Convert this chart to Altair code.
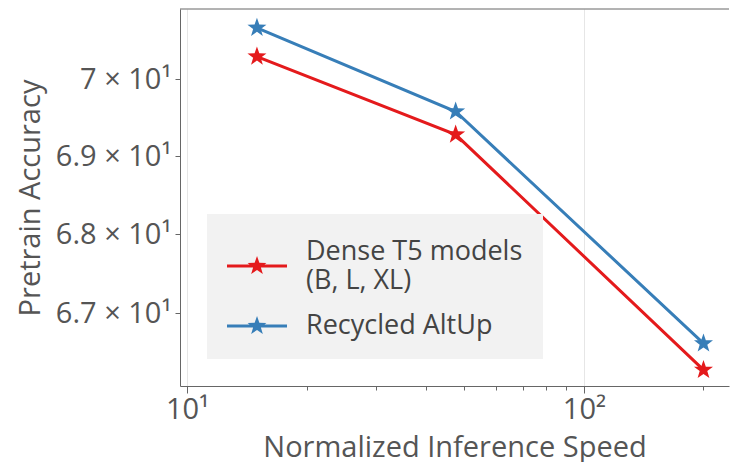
import math
import altair as alt
import pandas as pd

# ---- data ----
series_names = ["Dense T5 models\n(B, L, XL)", "Recycled AltUp"]
speed_dense = [15.0, 47.5, 200.0]
acc_dense = [70.30, 69.28, 66.29]
speed_altup = [15.0, 47.5, 200.0]
acc_altup = [70.68, 69.58, 66.62]

x_ticks = [10, 20, 30, 40, 50, 60, 70, 80, 90, 100, 200]
x_major = {10: "10¹", 100: "10²"}
y_ticks = [67, 68, 69, 70]
y_tick_labels = ["6.7 × 10¹", "6.8 × 10¹", "6.9 × 10¹", "7 × 10¹"]

colors = ["#e41a1c", "#377eb8"]

rows = []
for s, a in zip(speed_dense, acc_dense):
    rows.append({"speed": s, "acc": a, "model": series_names[0]})
for s, a in zip(speed_altup, acc_altup):
    rows.append({"speed": s, "acc": a, "model": series_names[1]})
df = pd.DataFrame(rows)

# ---- star shapes (style only) ----
def star_path(R=1.0, r=0.4, cx=0.0):
    pts = []
    for i in range(10):
        ang = -math.pi / 2 + i * math.pi / 5
        rad = R if i % 2 == 0 else r
        pts.append((cx + rad * math.cos(ang), rad * math.sin(ang)))
    return "M" + " L".join(f"{x:.3f},{y:.3f}" for x, y in pts) + " Z"

STAR = star_path()
# legend glyph: a line with a star in its middle (1 unit = 32px with size 4096)
LEGEND_SYM = "M-1,-0.047 L0.875,-0.047 L0.875,0.047 L-1,0.047 Z " + star_path(0.31, 0.125, -0.0625)

x_label_expr = " : ".join(
    [f"datum.value == {k} ? '{v}'" for k, v in x_major.items()] + ["''"]
)
y_label_expr = " : ".join(
    [f"datum.value == {k} ? '{v}'" for k, v in zip(y_ticks, y_tick_labels)] + ["''"]
)
major_test = " || ".join(f"datum.value == {k}" for k in x_major)

FONT = "Open Sans"
GREY = "#555555"
W, H = 549, 377

x_enc = alt.X(
    "speed:Q",
    scale=alt.Scale(type="log", domain=[9.6, 231.9], nice=False, zero=False),
    axis=alt.Axis(
        title="Normalized Inference Speed",
        values=x_ticks,
        labelExpr=x_label_expr,
        grid=True,
        gridColor="#e6e6e6",
        gridOpacity={"expr": f"({major_test}) ? 1 : 0"},
        tickSize={"expr": f"({major_test}) ? 7 : 4"},
        tickColor="#666666",
        domainColor="#666666",
        labelFontSize=29,
        labelColor=GREY,
        labelFont=FONT,
        labelPadding=2,
        titleFontSize=29,
        titleFont=FONT,
        titleFontWeight="normal",
        titleColor=GREY,
        titlePadding=9,
    ),
)
y_enc = alt.Y(
    "acc:Q",
    scale=alt.Scale(type="log", domain=[66.09, 70.93], nice=False, zero=False),
    axis=alt.Axis(
        title="Pretrain Accuracy",
        values=y_ticks,
        labelExpr=y_label_expr,
        grid=False,
        tickSize=5,
        tickColor="#666666",
        domainColor="#666666",
        labelFontSize=29,
        labelColor=GREY,
        labelFont=FONT,
        labelPadding=4,
        titleFontSize=29,
        titleFont=FONT,
        titleFontWeight="normal",
        titleColor=GREY,
        titlePadding=10,
    ),
)
color_enc = alt.Color(
    "model:N",
    scale=alt.Scale(domain=series_names, range=colors),
    legend=alt.Legend(
        title=None,
        orient="none",
        legendX=27,
        legendY=205,
        fillColor="#f2f2f2",
        padding=20,
        symbolType=LEGEND_SYM,
        symbolSize=4096,
        symbolStrokeWidth=0,
        labelFont=FONT,
        labelFontSize=27,
        labelColor="#444444",
        labelLimit=400,
        labelOffset=15,
        rowPadding=-9,
        labelBaseline={"expr": "length(split(datum.label, '\\n')) > 1 ? 'bottom' : 'middle'"},
        labelExpr="split(datum.label, '\\n')",
    ),
)

points = alt.Chart(df).mark_point(
    shape=STAR, filled=True, size=400, opacity=1
).encode(x=x_enc, y=y_enc, color=color_enc)

lines = alt.Chart(df).mark_line(strokeWidth=3).encode(
    x=x_enc, y=y_enc, color=color_enc, detail="model:N"
)

top_frame = alt.Chart(pd.DataFrame({"f": [0]})).mark_rule(
    color="#666666", strokeWidth=1
).encode(x=alt.value(0), x2=alt.value(W), y=alt.value(0))

chart = (
    alt.layer(points, lines, top_frame)
    .properties(width=W, height=H, padding={"left": 8, "top": 0, "right": 0, "bottom": 0})
    .configure_view(stroke=None)
)

chart.save("out.html", embed_options={"renderer": "svg", "actions": False})
